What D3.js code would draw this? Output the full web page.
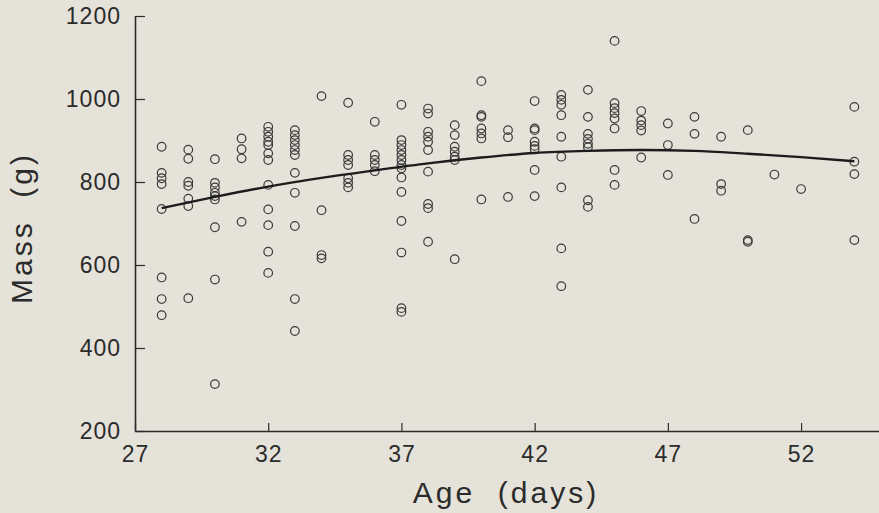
<!DOCTYPE html>
<html>
<head>
<meta charset="utf-8">
<script src="https://cdnjs.cloudflare.com/ajax/libs/d3/7.9.0/d3.min.js"></script>
<style>
  html, body { margin: 0; padding: 0; background: #e5e2d9; }
  svg { display: block; }
</style>
</head>
<body>
<script>
// age in days, one column of birds per day
const days = [28, 29, 30, 31, 32, 33, 34, 35, 36, 37, 38, 39, 40, 41,
              42, 43, 44, 45, 46, 47, 48, 49, 50, 51, 52, 54];
// mass (g) for each bird, grouped by the day above
const massByDay = [
  [885, 822, 809, 795, 735, 570, 518, 479],
  [878, 856, 800, 791, 760, 742, 520],
  [855, 798, 787, 774, 766, 758, 691, 565, 313],
  [905, 879, 857, 704],
  [933, 921, 909, 897, 889, 869, 853, 793, 734, 696, 632, 581],
  [925, 913, 901, 889, 877, 865, 822, 774, 694, 518, 441],
  [1007, 732, 624, 616],
  [991, 865, 853, 841, 809, 798, 787],
  [945, 865, 853, 841, 826],
  [986, 901, 889, 877, 865, 853, 841, 833, 811, 776, 706, 630, 496, 487],
  [977, 965, 921, 909, 897, 877, 825, 747, 737, 656],
  [937, 913, 885, 873, 861, 853, 614],
  [1043, 961, 957, 929, 917, 905, 758],
  [925, 908, 764],
  [995, 929, 925, 897, 887, 879, 829, 766],
  [1010, 998, 986, 961, 909, 861, 787, 640, 549],
  [1022, 957, 916, 904, 892, 884, 756, 740],
  [1140, 990, 978, 966, 953, 929, 829, 793],
  [971, 948, 937, 924, 859],
  [941, 889, 817],
  [957, 916, 711],
  [909, 795, 779],
  [925, 660, 656],
  [818],
  [783],
  [981, 849, 819, 660]
];
// fitted growth curve
const fitAges = [28, 30, 32, 34, 36, 38, 40, 42, 44, 46, 48, 50, 52, 54];
const fitMass = [737, 764, 789, 810, 828, 845, 859, 870, 875, 877, 875, 868, 860, 850];

const xTicks = [27, 32, 37, 42, 47, 52];
const yTicks = [200, 400, 600, 800, 1000, 1200];

const width = 879, height = 513;
const font = "'Liberation Sans', Arial, Helvetica, sans-serif";
const ink = "#2b2b2b";

const svg = d3.select("body").append("svg")
  .attr("width", width)
  .attr("height", height);

svg.append("rect").attr("width", width).attr("height", height).attr("fill", "#e5e2d9");

const x = d3.scaleLinear().domain([27, 55]).range([135, 881]);
const y = d3.scaleLinear().domain([200, 1200]).range([431, 16]);

const points = [];
days.forEach((d, i) => massByDay[i].forEach(m => points.push({ age: d, mass: m })));

// axes, ticks point inward
const xAxis = svg.append("g")
  .attr("transform", `translate(0,${y(200)})`)
  .call(d3.axisBottom(x).tickValues(xTicks).tickFormat(d3.format("d"))
    .tickSizeInner(-8).tickSizeOuter(0).tickPadding(15));

const yAxis = svg.append("g")
  .attr("transform", `translate(${x(27)},0)`)
  .call(d3.axisLeft(y).tickValues(yTicks).tickFormat(d3.format("d"))
    .tickSizeInner(-10).tickSizeOuter(0).tickPadding(14));

[xAxis, yAxis].forEach(g => {
  g.select(".domain").attr("stroke", ink).attr("stroke-width", 1.6);
  g.selectAll(".tick line").attr("stroke", ink).attr("stroke-width", 1.2);
  g.selectAll(".tick text")
    .attr("fill", ink)
    .style("font-family", font)
    .style("font-size", "23px")
    .style("letter-spacing", "1px");
});

// data points
svg.append("g").selectAll("circle")
  .data(points)
  .join("circle")
  .attr("cx", d => x(d.age))
  .attr("cy", d => y(d.mass))
  .attr("r", 4.3)
  .attr("fill", "none")
  .attr("stroke", "#3a3a3a")
  .attr("stroke-width", 1.2);

// fitted curve
const line = d3.line()
  .x((d, i) => x(fitAges[i]))
  .y(d => y(d))
  .curve(d3.curveMonotoneX);

svg.append("path")
  .datum(fitMass)
  .attr("d", line)
  .attr("fill", "none")
  .attr("stroke", "#1c1c1c")
  .attr("stroke-width", 2.4);

// axis titles
svg.append("text")
  .attr("x", 506)
  .attr("y", 503)
  .attr("text-anchor", "middle")
  .attr("fill", ink)
  .style("font-family", font)
  .style("font-size", "30px")
  .style("letter-spacing", "3px")
  .style("white-space", "pre")
  .text("Age  (days)");

svg.append("text")
  .attr("transform", "translate(32,228) rotate(-90)")
  .attr("text-anchor", "middle")
  .attr("fill", ink)
  .style("font-family", font)
  .style("font-size", "30px")
  .style("letter-spacing", "3px")
  .style("white-space", "pre")
  .text("Mass  (g)");
</script>
</body>
</html>
